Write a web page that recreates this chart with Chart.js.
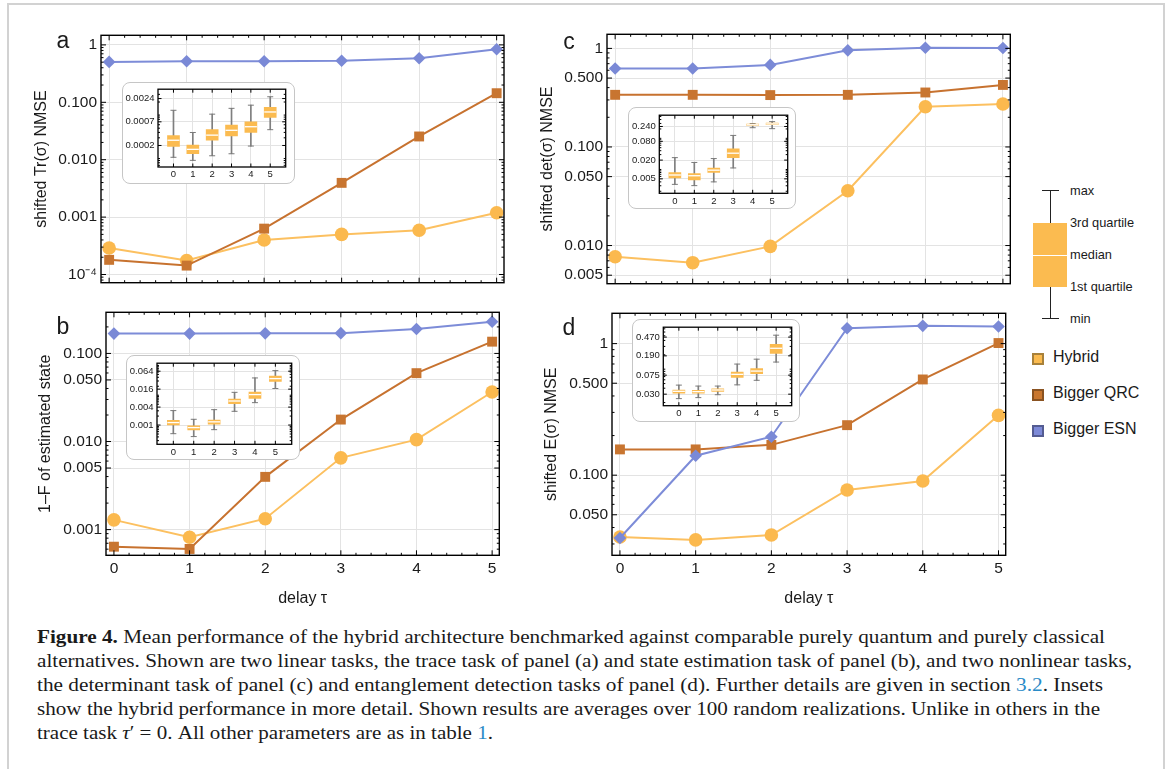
<!DOCTYPE html>
<html lang="en">
<head>
<meta charset="UTF-8">
<title>Figure 4 - hybrid architecture benchmark</title>
<script src="https://cdn.jsdelivr.net/npm/chart.js"></script>
<style>
  body { margin: 0; width: 1167px; height: 769px; background: #fff; position: relative; overflow: hidden;
         font-family: 'Liberation Sans', Arial, sans-serif; color: #1a1a1a; }
  canvas { position: absolute; }
  .frame { position: absolute; left: 7px; top: 3px; width: 1154px; height: 800px; border: 2px solid #d2d2d2; border-bottom: none; }
  .inset { position: absolute; background: #fff; border: 1px solid #c6c6c6; border-radius: 8px; box-sizing: border-box; }
  .letter { position: absolute; font-size: 23px; line-height: 1; transform: translateX(-50%); }
  .key { position: absolute; }
  .keylab { position: absolute; font-size: 12.8px; line-height: 1; transform: translateY(-50%); white-space: nowrap; }
  .sw { position: absolute; width: 12px; height: 12px; box-sizing: border-box; border: 2px solid; }
  .swlab { position: absolute; font-size: 16px; line-height: 1; transform: translateY(-50%); white-space: nowrap; }
  .cap { position: absolute; left: 37px; font-family: 'Liberation Serif', 'Times New Roman', serif; font-size: 18.5px;
         line-height: 20px; white-space: nowrap; transform-origin: 0 0; color: #1a1a1a; }
  .cap a { color: #2a8bc7; text-decoration: none; }
</style>
</head>
<body>

<div class="frame"></div>

<canvas id="panelA"></canvas>
<canvas id="panelB"></canvas>
<canvas id="panelC"></canvas>
<canvas id="panelD"></canvas>

<div class="inset" style="left:122px; top:82px; width:173px; height:102px;"></div>
<div class="inset" style="left:126px; top:355px; width:174px; height:105px;"></div>
<div class="inset" style="left:628px; top:107px; width:168px; height:102px;"></div>
<div class="inset" style="left:632px; top:319px; width:168px; height:103px;"></div>

<canvas id="insetA"></canvas>
<canvas id="insetB"></canvas>
<canvas id="insetC"></canvas>
<canvas id="insetD"></canvas>

<div class="letter" style="left:63px; top:29px;">a</div>
<div class="letter" style="left:63px; top:315px;">b</div>
<div class="letter" style="left:569px; top:30px;">c</div>
<div class="letter" style="left:569px; top:316px;">d</div>

<!-- box-whisker key -->
<div class="key" style="left:1050px; top:191px; width:1px; height:128px; background:#222;"></div>
<div class="key" style="left:1042px; top:190px; width:17px; height:1px; background:#222;"></div>
<div class="key" style="left:1042px; top:318px; width:17px; height:1px; background:#222;"></div>
<div class="key" style="left:1033px; top:223px; width:34px; height:64px; background:#fbbb50;"></div>
<div class="key" style="left:1033px; top:255px; width:34px; height:1px; background:#fff;"></div>
<div class="keylab" style="left:1070px; top:191px;">max</div>
<div class="keylab" style="left:1070px; top:223px;">3rd quartile</div>
<div class="keylab" style="left:1070px; top:255px;">median</div>
<div class="keylab" style="left:1070px; top:287px;">1st quartile</div>
<div class="keylab" style="left:1070px; top:319px;">min</div>

<!-- series key -->
<div class="sw" style="left:1032px; top:353px; background:#fbbb4f; border-color:#a8813a;"></div>
<div class="sw" style="left:1032px; top:389px; background:#c9772f; border-color:#8a5321;"></div>
<div class="sw" style="left:1032px; top:425px; background:#7d8ad8; border-color:#545c92;"></div>
<div class="swlab" style="left:1053px; top:357px;">Hybrid</div>
<div class="swlab" style="left:1053px; top:393px;">Bigger QRC</div>
<div class="swlab" style="left:1053px; top:429px;">Bigger ESN</div>

<div class="cap" style="top:627px;"><b>Figure 4.</b> Mean performance of the hybrid architecture benchmarked against comparable purely quantum and purely classical</div>
<div class="cap" style="top:651px;">alternatives. Shown are two linear tasks, the trace task of panel (a) and state estimation task of panel (b), and two nonlinear tasks,</div>
<div class="cap" style="top:675px;">the determinant task of panel (c) and entanglement detection tasks of panel (d). Further details are given in section <a>3.2</a>. Insets</div>
<div class="cap" style="top:699px;">show the hybrid performance in more detail. Shown results are averages over 100 random realizations. Unlike in others in the</div>
<div class="cap" style="top:723px;">trace task <i>τ</i>′ = 0. All other parameters are as in table <a>1</a>.</div>

<script>
    // delay values on the x axis
    const delays = [0, 1, 2, 3, 4, 5];

    // panel a: shifted Tr(sigma) NMSE
    const aHybrid = [2.9e-4, 1.75e-4, 4.0e-4, 5.0e-4, 5.9e-4, 1.19e-3];
    const aQRC = [1.8e-4, 1.43e-4, 6.3e-4, 3.95e-3, 0.0254, 0.144];
    const aESN = [0.506, 0.52, 0.52, 0.53, 0.585, 0.84];
    const aTicks = [1, 0.1, 0.01, 0.001, 0.0001];
    const aLabels = ['1', '0.100', '0.010', '0.001', '10⁻⁴'];

    // panel b: 1-F of estimated state
    const bHybrid = [0.00129, 0.00082, 0.00133, 0.00653, 0.0105, 0.0365];
    const bQRC = [0.00064, 0.000603, 0.00397, 0.01775, 0.0597, 0.136];
    const bESN = [0.168, 0.168, 0.169, 0.17, 0.189, 0.229];
    const bTicks = [0.1, 0.05, 0.01, 0.005, 0.001];
    const bLabels = ['0.100', '0.050', '0.010', '0.005', '0.001'];

    // panel c: shifted det(sigma) NMSE
    const cHybrid = [0.0077, 0.0067, 0.0098, 0.036, 0.256, 0.273];
    const cQRC = [0.338, 0.338, 0.336, 0.338, 0.357, 0.426];
    const cESN = [0.626, 0.626, 0.68, 0.955, 1.015, 1.01];
    const cTicks = [1, 0.5, 0.1, 0.05, 0.01, 0.005];
    const cLabels = ['1', '0.500', '0.100', '0.050', '0.010', '0.005'];

    // panel d: shifted E(sigma) NMSE
    const dHybrid = [0.0339, 0.0322, 0.0351, 0.0772, 0.0902, 0.285];
    const dQRC = [0.157, 0.157, 0.17, 0.24, 0.534, 1.01];
    const dESN = [0.0333, 0.1406, 0.196, 1.31, 1.365, 1.35];
    const dTicks = [1, 0.5, 0.1, 0.05];
    const dLabels = ['1', '0.500', '0.100', '0.050'];

    // insets: hybrid box-whisker statistics
    const aMax = [0.00129, 0.000398, 0.00105, 0.00143, 0.00169, 0.00264];
    const aQ3 = [0.00034, 0.000204, 0.000462, 0.000586, 0.000697, 0.0015];
    const aMed = [0.000264, 0.000163, 0.000346, 0.000447, 0.00054, 0.00118];
    const aQ1 = [0.000191, 0.000129, 0.000264, 0.000334, 0.000398, 0.00088];
    const aMin = [0.000107, 0.000091, 0.000116, 0.000129, 0.000194, 0.000462];
    const aInsetTicks = [0.0024, 0.0007, 0.0002];
    const aInsetLabels = ['0.0024', '0.0007', '0.0002'];

    const bMax = [0.00305, 0.00156, 0.00328, 0.0125, 0.038, 0.067];
    const bQ3 = [0.00145, 0.00095, 0.00148, 0.0074, 0.0128, 0.0442];
    const bMed = [0.00121, 0.00082, 0.00128, 0.0064, 0.0105, 0.0361];
    const bQ1 = [0.001, 0.00069, 0.00108, 0.00524, 0.0078, 0.0289];
    const bMin = [0.000513, 0.00041, 0.0007, 0.00289, 0.00564, 0.0168];
    const bInsetTicks = [0.064, 0.016, 0.004, 0.001];
    const bInsetLabels = ['0.064', '0.016', '0.004', '0.001'];

    const cMax = [0.024, 0.0168, 0.0224, 0.124, 0.297, 0.343];
    const cQ3 = [0.008, 0.00745, 0.011, 0.0456, 0.287, 0.31];
    const cMed = [0.00665, 0.0063, 0.0095, 0.0333, 0.272, 0.29];
    const cQ1 = [0.00536, 0.00466, 0.008, 0.024, 0.258, 0.272];
    const cMin = [0.00333, 0.00303, 0.004, 0.0112, 0.219, 0.204];
    const cInsetTicks = [0.24, 0.08, 0.02, 0.005];
    const cInsetLabels = ['0.240', '0.080', '0.020', '0.005'];

    const dMax = [0.0464, 0.0443, 0.0443, 0.128, 0.162, 0.515];
    const dQ3 = [0.0367, 0.036, 0.039, 0.0871, 0.1033, 0.333];
    const dMed = [0.0344, 0.0339, 0.0367, 0.078, 0.0913, 0.274];
    const dQ1 = [0.0314, 0.0314, 0.0344, 0.067, 0.0808, 0.214];
    const dMin = [0.0242, 0.0254, 0.0292, 0.047, 0.0585, 0.141];
    const dInsetTicks = [0.47, 0.19, 0.075, 0.03];
    const dInsetLabels = ['0.470', '0.190', '0.075', '0.030'];

    Chart.defaults.font.family = "'Liberation Sans', Arial, sans-serif";
    Chart.defaults.color = '#1a1a1a';

    const gridColor = '#e3e3e3';

    // Mathematica-like frame: black box with inward ticks on all four sides
    const frameTicks = {
        id: 'frameTicks',
        afterDraw(chart, args, o) {
            const { ctx, chartArea: a } = chart;
            const x = chart.scales.x, y = chart.scales.y;
            ctx.save();
            ctx.strokeStyle = '#000';
            ctx.lineWidth = 1;
            const tick = (isY, p, len) => {
                ctx.beginPath();
                if (isY) {
                    ctx.moveTo(a.left, p); ctx.lineTo(a.left + len, p);
                    ctx.moveTo(a.right, p); ctx.lineTo(a.right - len, p);
                } else {
                    ctx.moveTo(p, a.bottom); ctx.lineTo(p, a.bottom - len);
                    ctx.moveTo(p, a.top); ctx.lineTo(p, a.top + len);
                }
                ctx.stroke();
            };
            const isMajor = v => o.yMajor.some(m => Math.abs(m / v - 1) < 1e-6);
            for (let d = Math.floor(Math.log10(y.min)); d <= Math.ceil(Math.log10(y.max)); d++) {
                for (let k = 1; k <= 9; k++) {
                    const v = k * Math.pow(10, d);
                    if (v < y.min || v > y.max || isMajor(v)) continue;
                    tick(true, y.getPixelForValue(v), o.minor);
                }
            }
            o.yMajor.forEach(v => tick(true, y.getPixelForValue(v), o.major));
            for (let i = Math.ceil(x.min / o.xStep); i * o.xStep <= x.max + 1e-9; i++) {
                const v = i * o.xStep;
                const major = Math.abs(v - Math.round(v)) < 1e-6;
                tick(false, x.getPixelForValue(v), major ? o.major : o.minor);
            }
            ctx.lineWidth = o.frame;
            ctx.strokeRect(a.left, a.top, a.right - a.left, a.bottom - a.top);
            ctx.restore();
        }
    };

    function points(vals) {
        return delays.map((d, i) => ({ x: d, y: vals[i] }));
    }

    // area = wanted plot frame in page pixels
    function mainChart(id, area, hybrid, qrc, esn, yMin, yMax, yTicks, yLabels, yTitle, titleX, showX) {
        const cv = document.getElementById(id);
        const left = Math.floor(area.l) - 80, top = Math.floor(area.t) - 10;
        const width = Math.ceil(area.r + 16 - left);
        const height = Math.ceil(area.b + (showX ? 60 : 12) - top);
        cv.width = width; cv.height = height;
        cv.style.left = left + 'px'; cv.style.top = top + 'px';
        const yw = area.l - left, pt = area.t - top, pr = left + width - area.r, xh = top + height - area.b;

        const series = [
            { label: 'Hybrid', data: points(hybrid), borderColor: '#fcc060', pointBackgroundColor: '#fbb94e', pointStyle: 'circle', pointRadius: 6.8, order: 3 },
            { label: 'Bigger QRC', data: points(qrc), borderColor: '#c7722f', pointBackgroundColor: '#c87530', pointStyle: 'rect', pointRadius: 7, order: 2 },
            { label: 'Bigger ESN', data: points(esn), borderColor: '#7d8cd8', pointBackgroundColor: '#7a89d6', pointStyle: 'rectRot', pointRadius: 6.3, order: 1 }
        ].map(s => Object.assign(s, { borderWidth: 2, pointBorderWidth: 0, pointHoverRadius: s.pointRadius, tension: 0, clip: false }));

        return new Chart(cv, {
            type: 'line',
            data: { datasets: series },
            plugins: [frameTicks],
            options: {
                responsive: false,
                animation: false,
                devicePixelRatio: 1,
                layout: { padding: { left: 0, top: pt, right: pr, bottom: 0 } },
                plugins: {
                    legend: { display: false },
                    tooltip: { enabled: false },
                    frameTicks: { yMajor: yTicks, xStep: 0.2, major: 5, minor: 2.5, frame: 1.4 }
                },
                scales: {
                    x: {
                        type: 'linear', min: -0.105, max: 5.095, bounds: 'data',
                        afterFit: s => { s.height = xh; },
                        afterBuildTicks: s => { s.ticks = delays.map(v => ({ value: v })); },
                        ticks: { display: showX, font: { size: 15.5 }, padding: 4, autoSkip: false, maxRotation: 0 },
                        grid: { color: gridColor, drawTicks: false },
                        border: { display: false },
                        title: { display: showX, text: 'delay τ', font: { size: 16 },
                                 padding: { top: 0, bottom: top + height - 9.6 - 599 } }
                    },
                    y: {
                        type: 'logarithmic', min: yMin, max: yMax, bounds: 'data',
                        afterFit: s => { s.width = yw; },
                        afterBuildTicks: s => { s.ticks = yTicks.map(v => ({ value: v })); },
                        ticks: { callback: (v, i) => yLabels[i], font: { size: 15.5 }, padding: 4, autoSkip: false },
                        grid: { color: gridColor, drawTicks: false },
                        border: { display: false },
                        title: { display: true, text: yTitle, font: { size: 16 },
                                 padding: { top: titleX - left - 9.6, bottom: 0 } }
                    }
                }
            }
        });
    }

    function insetChart(id, area, mx, q3, md, q1, mn, yMin, yMax, yTicks, yLabels) {
        const cv = document.getElementById(id);
        const left = Math.floor(area.l) - 36, top = Math.floor(area.t) - 6;
        const width = Math.ceil(area.r + 6 - left), height = Math.ceil(area.b + 16 - top);
        cv.width = width; cv.height = height;
        cv.style.left = left + 'px'; cv.style.top = top + 'px';
        const yw = area.l - left, pt = area.t - top, pr = left + width - area.r, xh = top + height - area.b;

        const cap = vals => ({ type: 'line', data: points(vals), showLine: false, pointStyle: 'line', pointRadius: 3,
                               pointBorderColor: '#7a7a7a', pointBorderWidth: 1, borderColor: '#7a7a7a', clip: false, order: 2 });
        return new Chart(cv, {
            type: 'bar',
            data: {
                datasets: [
                    { type: 'line', data: points(md), showLine: false, pointStyle: 'line', pointRadius: 6,
                      pointBorderColor: '#fff', pointBorderWidth: 1.3, borderColor: '#fff', clip: false, order: 0 },
                    { type: 'bar', data: delays.map((d, i) => ({ x: d, y: [q1[i], q3[i]] })), backgroundColor: '#fbbb50',
                      barThickness: 12, grouped: false, order: 1 },
                    cap(mx),
                    cap(mn),
                    { type: 'bar', data: delays.map((d, i) => ({ x: d, y: [mn[i], mx[i]] })), backgroundColor: '#7f7f7f',
                      barThickness: 1, grouped: false, order: 3 }
                ]
            },
            plugins: [frameTicks],
            options: {
                responsive: false,
                animation: false,
                devicePixelRatio: 1,
                layout: { padding: { left: 0, top: pt, right: pr, bottom: 0 } },
                plugins: {
                    legend: { display: false },
                    tooltip: { enabled: false },
                    frameTicks: { yMajor: yTicks, xStep: 1, major: 3.5, minor: 2, frame: 1.3 }
                },
                scales: {
                    x: {
                        type: 'linear', min: -0.8, max: 5.8, bounds: 'data', offset: false,
                        afterFit: s => { s.height = xh; },
                        afterBuildTicks: s => { s.ticks = delays.map(v => ({ value: v })); },
                        ticks: { font: { size: 9.5 }, padding: 2, autoSkip: false, maxRotation: 0 },
                        grid: { color: gridColor, drawTicks: false, offset: false },
                        border: { display: false }
                    },
                    y: {
                        type: 'logarithmic', min: yMin, max: yMax, bounds: 'data',
                        afterFit: s => { s.width = yw; },
                        afterBuildTicks: s => { s.ticks = yTicks.map(v => ({ value: v })); },
                        ticks: { callback: (v, i) => yLabels[i], font: { size: 9.5 }, padding: 3.5, autoSkip: false },
                        grid: { color: gridColor, drawTicks: false },
                        border: { display: false }
                    }
                }
            }
        });
    }

    mainChart('panelA', { l: 101, t: 32, r: 504, b: 284 }, aHybrid, aQRC, aESN, 7.2e-5, 1.47, aTicks, aLabels,
              'shifted Tr(σ) NMSE', 42, false);
    mainChart('panelB', { l: 106, t: 309.3, r: 499.3, b: 555.3 }, bHybrid, bQRC, bESN, 5.11e-4, 0.293, bTicks, bLabels,
              '1–F of estimated state', 46, true);
    mainChart('panelC', { l: 607, t: 31.7, r: 1010.3, b: 284.3 }, cHybrid, cQRC, cESN, 0.0041, 1.39, cTicks, cLabels,
              'shifted det(σ) NMSE', 548, false);
    mainChart('panelD', { l: 612, t: 310, r: 1005.7, b: 555.3 }, dHybrid, dQRC, dESN, 0.0246, 1.70, dTicks, dLabels,
              'shifted E(σ) NMSE', 552, true);

    insetChart('insetA', { l: 158, t: 86.3, r: 287, b: 167 }, aMax, aQ3, aMed, aQ1, aMin, 6.4e-5, 0.00394, aInsetTicks, aInsetLabels);
    insetChart('insetB', { l: 157, t: 360, r: 292.3, b: 444.3 }, bMax, bQ3, bMed, bQ1, bMin, 0.000226, 0.1186, bInsetTicks, bInsetLabels);
    insetChart('insetC', { l: 659.3, t: 112.3, r: 788.7, b: 193.3 }, cMax, cQ3, cMed, cQ1, cMin, 0.00172, 0.552, cInsetTicks, cInsetLabels);
    insetChart('insetD', { l: 663.3, t: 324, r: 792.7, b: 405.7 }, dMax, dQ3, dMed, dQ1, dMin, 0.0172, 0.757, dInsetTicks, dInsetLabels);

    // stretch each caption line to the width it has in the figure
    const captionEnds = [1105, 1132, 1103, 1100, 493];
    document.querySelectorAll('.cap').forEach((el, i) => {
        const w = el.getBoundingClientRect().width;
        el.style.transform = 'scaleX(' + ((captionEnds[i] - 37) / w).toFixed(4) + ')';
    });
</script>

</body>
</html>
